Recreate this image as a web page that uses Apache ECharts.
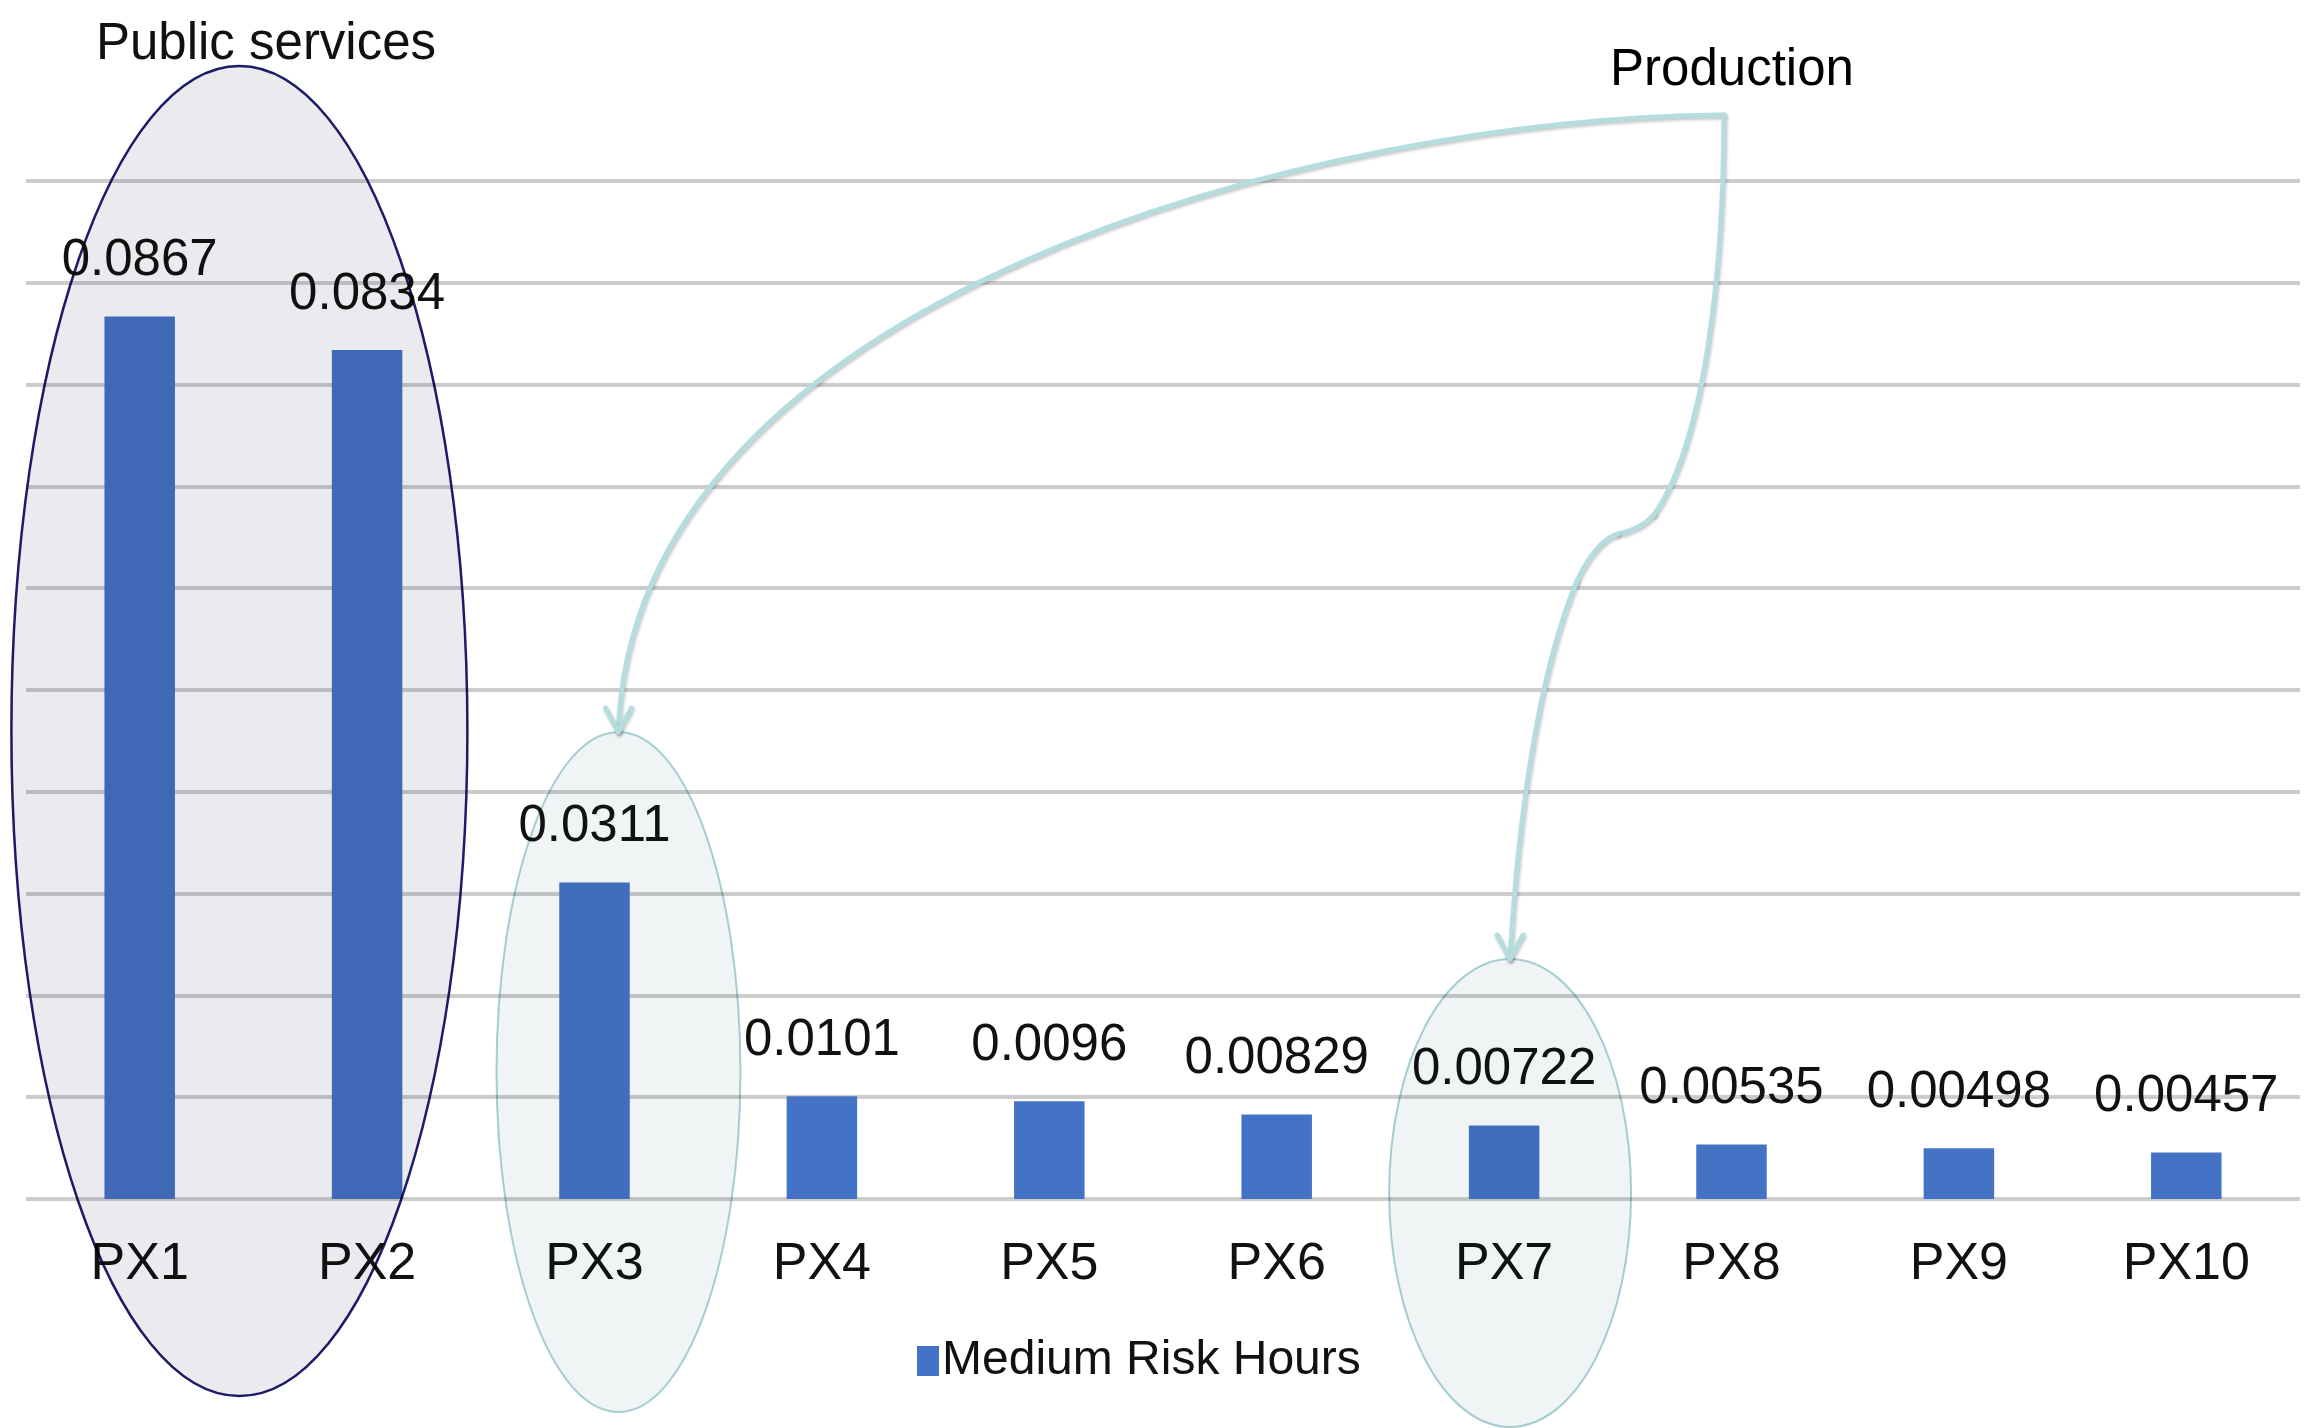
<!DOCTYPE html>
<html>
<head>
<meta charset="utf-8">
<script src="https://cdn.jsdelivr.net/npm/echarts@6/dist/echarts.min.js"></script>
<style>
html,body{margin:0;padding:0;background:#fff;}
#chart{width:2306px;height:1428px;}
</style>
</head>
<body>
<div id="chart"></div>
<script>
const categories = ['PX1','PX2','PX3','PX4','PX5','PX6','PX7','PX8','PX9','PX10'];
const values = [0.0867, 0.0834, 0.0311, 0.0101, 0.0096, 0.00829, 0.00722, 0.00535, 0.00498, 0.00457];
const seriesName = 'Medium Risk Hours';
const groupLabels = ['Public services', 'Production'];
const yMin = 0, yMax = 0.1, yInterval = 0.01;

const FONT = '"Liberation Sans Narrow", "Liberation Sans", Arial, sans-serif';
const chart = echarts.init(document.getElementById('chart'), null, {renderer: 'canvas'});

chart.setOption({
  backgroundColor: '#ffffff',
  animation: false,
  grid: {left: 26, right: 6, top: 181, bottom: 229, containLabel: false},
  title: [
    {text: groupLabels[0], left: 261, top: 14, textAlign: 'center',
     textStyle: {fontFamily: FONT, fontSize: 51, fontWeight: 'normal', color: '#111'}},
    {text: groupLabels[1], left: 1727, top: 40, textAlign: 'center',
     textStyle: {fontFamily: FONT, fontSize: 51, fontWeight: 'normal', color: '#000'}}
  ],
  legend: {
    data: [seriesName], left: 912, top: 1332, icon: 'rect', itemWidth: 22, itemHeight: 30, itemGap: 10,
    textStyle: {fontFamily: FONT, fontSize: 48, color: '#111', padding: [0,0,0,-2]}
  },
  xAxis: {
    type: 'category', data: categories,
    axisLine: {show: false}, axisTick: {show: false},
    axisLabel: {fontFamily: FONT, fontSize: 52, color: '#111', margin: 40}
  },
  yAxis: {
    type: 'value', min: yMin, max: yMax, interval: yInterval,
    axisLabel: {show: false}, axisLine: {show: false}, axisTick: {show: false},
    splitLine: {show: true, lineStyle: {color: '#cccccc', width: 4}}
  },
  series: [{
    name: seriesName, type: 'bar', data: values, barWidth: '31%',
    itemStyle: {color: '#4472c4'},
    label: {show: true, position: 'top', distance: 30, fontFamily: FONT, fontSize: 51, color: '#111',
            formatter: p => String(p.value)}
  }]
});

function px(cat, v) { return chart.convertToPixel({gridIndex: 0}, [cat, v]); }
const base = px(categories[0], 0)[1];
const c1 = px(categories[0], 0)[0], c2 = px(categories[1], 0)[0];
const c3 = px(categories[2], 0)[0], c7 = px(categories[6], 0)[0];

const e1 = {cx: (c1 + c2) / 2 - 14, cy: base - 468, rx: 228, ry: 665};
const e3 = {cx: c3 + 24, cy: base - 127, rx: 122, ry: 340};
const e7 = {cx: c7 + 6, cy: base - 6, rx: 121, ry: 234};

const corner = [1724, 115];
const tip3 = [e3.cx, e3.cy - e3.ry];
const tip7 = [e7.cx, e7.cy - e7.ry];

const connStyle = {fill: null, stroke: '#b5dde0', lineWidth: 5, lineCap: 'round', lineJoin: 'round',
  shadowColor: 'rgba(0,0,0,0.22)', shadowBlur: 3, shadowOffsetX: 1, shadowOffsetY: 2};

function bez(p0, c1p, c2p, p1) {
  return {type: 'bezierCurve', z: 101, silent: true,
    shape: {x1: p0[0], y1: p0[1], cpx1: c1p[0], cpy1: c1p[1], cpx2: c2p[0], cpy2: c2p[1], x2: p1[0], y2: p1[1]},
    style: connStyle};
}
function quad(p0, cp, p1) {
  return {type: 'bezierCurve', z: 101, silent: true,
    shape: {x1: p0[0], y1: p0[1], cpx1: cp[0], cpy1: cp[1], x2: p1[0], y2: p1[1]},
    style: connStyle};
}
function head(t) {
  return {type: 'polyline', z: 101, silent: true,
    shape: {points: [[t[0]-13, t[1]-24], [t[0], t[1]], [t[0]+13, t[1]-24]]}, style: connStyle};
}

chart.setOption({
  graphic: [
    {type: 'ellipse', z: 100, silent: true, shape: e1,
     style: {fill: '#ebeaef', stroke: '#1c1c6a', lineWidth: 2.5, blend: 'multiply'}},
    {type: 'ellipse', z: 100, silent: true, shape: e3,
     style: {fill: '#f0f4f5', stroke: '#a9d3d6', lineWidth: 2, blend: 'multiply'}},
    {type: 'ellipse', z: 100, silent: true, shape: e7,
     style: {fill: '#f0f4f5', stroke: '#a9d3d6', lineWidth: 2, blend: 'multiply'}},
    bez(corner, [1324, 118], [632, 294], tip3),
    bez(corner, [1724, 265], [1706, 441], [1654, 515]),
    quad([1654, 515], [1640, 530], [1618, 534]),
    quad([1618, 534], [1596, 541], [1577, 581]),
    bez([1577, 581], [1537, 677], [1518, 824], tip7),
    head(tip3),
    head(tip7)
  ]
});
</script>
</body>
</html>
